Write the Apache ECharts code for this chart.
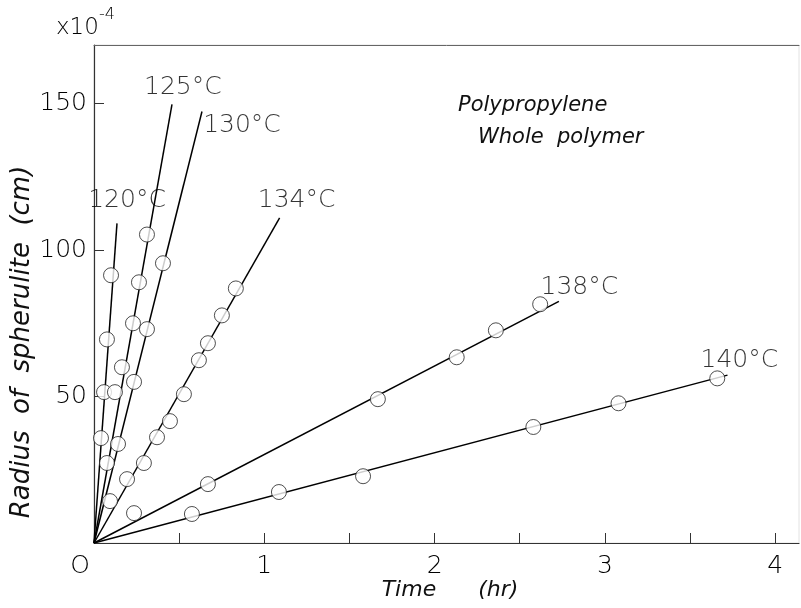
<!DOCTYPE html>
<html>
<head>
<meta charset="utf-8">
<script src="https://cdn.jsdelivr.net/npm/echarts@6/dist/echarts.min.js"></script>
<style>
  html, body { margin: 0; padding: 0; background: #fff; }
  #box { width: 801px; height: 608px; }
</style>
</head>
<body>
<div id="box"></div>
<script>
// measured points, time (hr) / radius (x10^-4 cm)
var t120 = [0.041, 0.059, 0.076, 0.100];
var r120 = [35.8, 51.5, 69.5, 91.4];
var t125 = [0.076, 0.123, 0.164, 0.229, 0.264, 0.311];
var r125 = [27.3, 51.5, 60.0, 75.0, 89.0, 105.3];
var t130 = [0.094, 0.141, 0.235, 0.311, 0.405];
var r130 = [14.3, 33.8, 55.0, 73.0, 95.5];
var t134 = [0.194, 0.293, 0.370, 0.446, 0.528, 0.616, 0.669, 0.751, 0.833];
var r134 = [21.8, 27.3, 36.1, 41.6, 50.8, 62.4, 68.2, 77.7, 86.9];
var t138 = [0.235, 0.669, 1.667, 2.13, 2.36, 2.62];
var r138 = [10.2, 20.1, 49.1, 63.4, 72.6, 81.5];
var t140 = [0.575, 1.086, 1.58, 2.58, 3.08, 3.66];
var r140 = [9.9, 17.4, 22.8, 39.6, 47.7, 56.2];

// fitted lines, drawn from the origin to these ends
var temps = ["120°C", "125°C", "130°C", "134°C", "138°C", "140°C"];
var lineEndT = [0.135, 0.458, 0.634, 1.09, 2.73, 3.72];
var lineEndR = [109.1, 149.7, 147.3, 111.0, 82.5, 57.3];
// where each temperature label sits
var labelT = [0.194, 0.522, 0.869, 1.19, 2.85, 3.79];
var labelR = [117, 155.5, 142.5, 117, 87.3, 62.4];

var xTicks = [0, 1, 2, 3, 4];
var yTicks = [50, 100, 150];

var myChart = echarts.init(document.getElementById("box"));
var font = "DejaVu Sans";

function zip(a, b) {
  return a.map(function (v, i) { return [v, b[i]]; });
}

var pts = [zip(t120, r120), zip(t125, r125), zip(t130, r130),
           zip(t134, r134), zip(t138, r138), zip(t140, r140)];

var series = [];
temps.forEach(function (name, i) {
  series.push({
    name: name,
    type: "line",
    data: [[0, 0], [lineEndT[i], lineEndR[i]]],
    symbol: "none",
    lineStyle: { color: "#000", width: 1.5 },
    z: 2,
  });
});
pts.forEach(function (d, i) {
  series.push({
    name: temps[i] + " pts",
    type: "scatter",
    data: d,
    symbol: "circle",
    symbolSize: 15,
    itemStyle: { color: "#fff", borderColor: "#222", borderWidth: 1 },
    z: 3,
  });
});
// temperature labels
series.push({
  type: "scatter",
  symbolSize: 0,
  data: labelT.map(function (t, i) {
    return { value: [t, labelR[i]], name: temps[i] };
  }),
  label: {
    show: true,
    position: "inside",
    formatter: "{b}",
    fontFamily: font,
    fontWeight: 200,
    fontSize: 25,
    color: "#000",
  },
  z: 4,
});

var option = {
  backgroundColor: "#fff",
  animation: false,
  grid: {
    left: 94, right: 2, top: 45, bottom: 65,
    show: true, borderColor: "#e2e2e2", borderWidth: 1,
  },
  xAxis: [
    {
      type: "value",
      min: 0,
      max: 4.14,
      interval: 0.5,
      axisLine: { lineStyle: { color: "#333", width: 1.2 } },
      axisTick: { inside: true, length: 10, lineStyle: { color: "#333" } },
      splitLine: { show: false },
      axisLabel: {
        margin: 11,
        fontFamily: font,
        fontWeight: 200,
        fontSize: 25,
        color: "#000",
        showMaxLabel: false,
        formatter: function (v) {
          if (xTicks.indexOf(v) < 0) return "";
          if (v === 0) return "{z|O}";
          return String(v);
        },
        rich: { z: { fontFamily: font, fontWeight: 200, fontSize: 25, color: "#000", padding: [0, 28, 0, 0] } },
      },
    },
    {
      type: "value",
      position: "top",
      min: 0,
      max: 4.14,
      axisLine: { show: true, lineStyle: { color: "#666", width: 1 } },
      axisTick: { show: false },
      axisLabel: { show: false },
      splitLine: { show: false },
    },
  ],
  yAxis: {
    type: "value",
    min: 0,
    max: 170,
    interval: 50,
    axisLine: { show: true, lineStyle: { color: "#333", width: 1.2 } },
    axisTick: { inside: true, length: 10, lineStyle: { color: "#333" } },
    splitLine: { show: false },
    axisLabel: {
      margin: 7,
      fontFamily: font,
      fontWeight: 200,
      fontSize: 25,
      color: "#000",
      showMaxLabel: false,
      formatter: function (v) {
        return yTicks.indexOf(v) < 0 ? "" : String(v);
      },
    },
  },
  graphic: [
    {
      type: "text",
      x: 56,
      y: 7,
      style: {
        text: "{a|x10}{b|-4}",
        rich: {
          a: { fontFamily: font, fontWeight: 200, fontSize: 23, fill: "#000", padding: [10, 0, 0, 0] },
          b: { fontFamily: font, fontWeight: 200, fontSize: 16, fill: "#000", verticalAlign: "top" },
        },
      },
    },
    {
      type: "text",
      x: 22,
      y: 342,
      rotation: Math.PI / 2,
      style: {
        text: "Radius  of  spherulite  (cm)",
        fontFamily: font,
        fontStyle: "italic",
        fontWeight: 200,
        fontSize: 26,
        fill: "#111",
        textAlign: "center",
        textVerticalAlign: "middle",
      },
    },
    {
      type: "text",
      x: 450,
      y: 590,
      style: {
        text: "Time      (hr)",
        fontFamily: font,
        fontStyle: "italic",
        fontWeight: 200,
        fontSize: 22,
        fill: "#111",
        textAlign: "center",
        textVerticalAlign: "middle",
      },
    },
    {
      type: "text",
      x: 458,
      y: 95,
      style: {
        text: "Polypropylene",
        fontFamily: font,
        fontStyle: "italic",
        fontWeight: 200,
        fontSize: 21,
        fill: "#111",
      },
    },
    {
      type: "text",
      x: 478,
      y: 127,
      style: {
        text: "Whole  polymer",
        fontFamily: font,
        fontStyle: "italic",
        fontWeight: 200,
        fontSize: 21,
        fill: "#111",
      },
    },
  ],
  series: series,
};

myChart.setOption(option);
</script>
</body>
</html>
